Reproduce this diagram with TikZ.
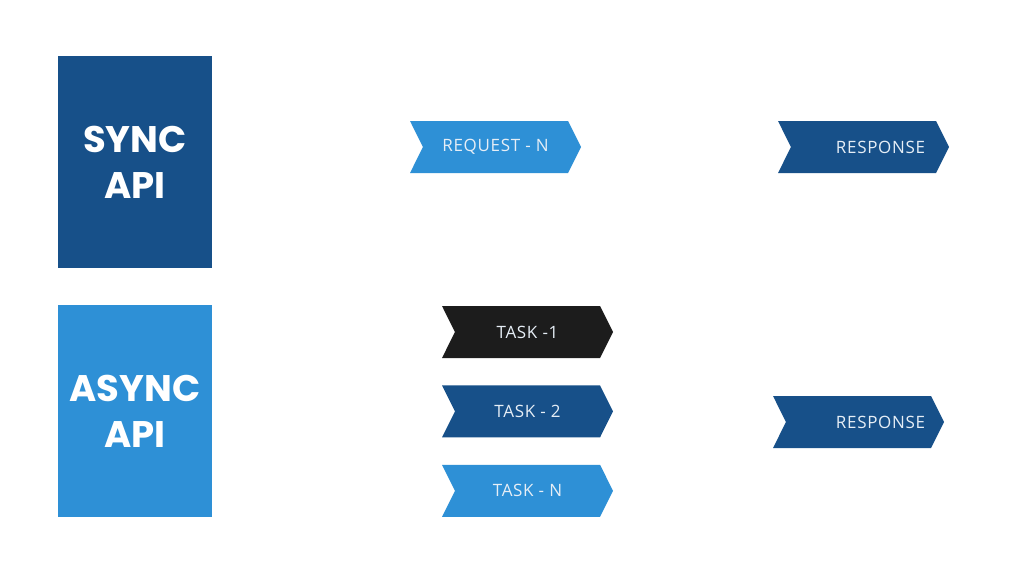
\documentclass[tikz,border=0pt]{standalone}
\usepackage{fontspec}
\setmainfont{Open Sans}
\newfontfamily\headfont{Poppins}
\newfontfamily\tagfont{Open Sans}[LetterSpace=4]
\usetikzlibrary{shapes.symbols, positioning}
\definecolor{darkblue}{HTML}{175089}
\definecolor{lightblue}{HTML}{2E90D6}
\definecolor{nearblack}{HTML}{1C1C1C}
\definecolor{tagtext}{HTML}{E6EEF6}
\tikzset{
	apibox/.style={rectangle, minimum width=154pt, minimum height=212pt, inner sep=0pt, text=white, align=center, font=\headfont\bfseries\fontsize{37}{46}\selectfont},
	chevron/.style={signal, signal to=east, signal from=west, signal pointer angle=127, minimum width=171pt, minimum height=52pt, inner sep=0pt, text=tagtext, font=\tagfont\fontsize{17}{20}\selectfont}
}

\begin{document}
\begin{tikzpicture}[x=1pt, y=-1pt]
	% Page frame
	\fill[white] (0,0) rectangle (1024,576);
	\useasboundingbox (0,0) rectangle (1024,576);
	
	% API boxes
	\node[apibox, fill=darkblue] (sync) at (135,162) {SYNC\\API};
	\node[apibox, fill=lightblue] (async) at (135,411) {ASYNC\\API};
	
	% Sync flow
	\node[chevron, fill=lightblue] (request) at (495.5,147) {REQUEST - N};
	\node[chevron, fill=darkblue] (syncresp) at (863.5,147) {\hspace*{34pt}RESPONSE};
	
	% Async flow
	\node[chevron, fill=nearblack] (task1) at (527.5,332) {TASK -1};
	\node[chevron, fill=darkblue, below=27pt of task1] (task2) {TASK - 2};
	\node[chevron, fill=lightblue, below=27pt of task2] (taskn) {TASK - N};
	\node[chevron, fill=darkblue] (asyncresp) at (858.5,422) {\hspace*{44pt}RESPONSE};
\end{tikzpicture}
\end{document}
